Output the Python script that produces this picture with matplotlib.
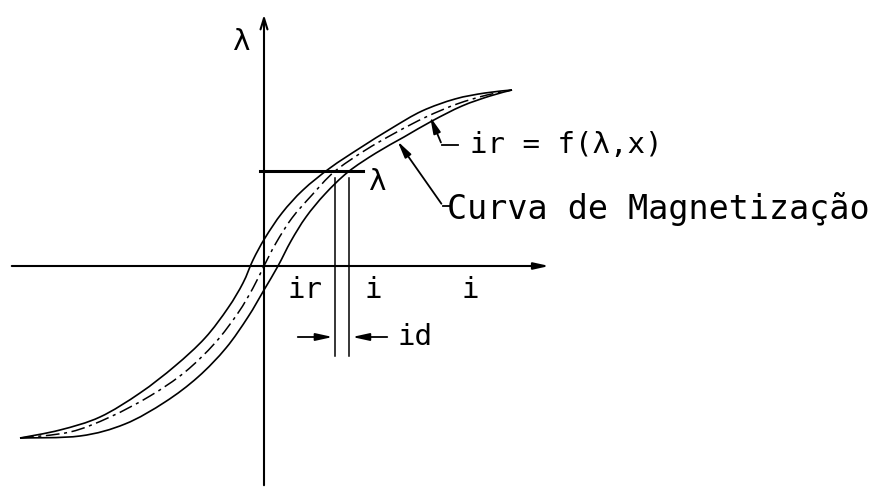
import numpy as np
import matplotlib.pyplot as plt
from matplotlib.path import Path
from matplotlib.patches import PathPatch

# hysteresis loop branches, (i, lambda) in drawing units, origin at axes crossing
up_i = [-244, -204, -164, -124, -89, -59, -36, -21, -11, 1, 18, 39, 66, 96, 128, 158, 191, 221, 248]
up_lam = [-172, -164, -151, -127, -100, -72, -42, -17, 6, 28, 53, 76, 98, 118, 138, 155, 167, 173, 176]

mid_i = [-244, -194, -154, -114, -79, -49, -26, -11, 0, 12, 28, 48, 70, 100, 131, 162, 193, 223, 248]
mid_lam = [-172, -166, -151, -130, -106, -77, -47, -22, 0, 23, 48, 71, 94, 115, 133, 149, 162, 171, 176]

low_i = [-244, -184, -139, -99, -66, -38, -16, 0, 14, 27, 42, 61, 84, 112, 140, 168, 198, 226, 248]
low_lam = [-172, -170, -158, -136, -111, -82, -51, -24, 0, 25, 49, 72, 94, 113, 129, 145, 160, 170, 176]

lam_level = 95  # flux linkage level marked on the axis


def smooth_path(xs, ys):
    # Catmull-Rom through the points, written as cubic Bezier segments
    p = np.column_stack([xs, ys]).astype(float)
    ext = np.vstack([p[0], p, p[-1]])
    verts = [p[0]]
    codes = [Path.MOVETO]
    for k in range(1, len(ext) - 2):
        p0, p1, p2, p3 = ext[k - 1], ext[k], ext[k + 1], ext[k + 2]
        verts += [p1 + (p2 - p0) / 6, p2 - (p3 - p1) / 6, p2]
        codes += [Path.CURVE4] * 3
    return Path(verts, codes)


plt.rcParams['font.family'] = ['DejaVu Sans Mono', 'DejaVu Sans']

fig = plt.figure(figsize=(8.92, 4.87), dpi=100)
ax = fig.add_axes([0, 0, 1, 1])
ax.set_xlim(-264, 628)
ax.set_ylim(-221, 266)
ax.axis('off')

# axes with arrowheads
ax.annotate('', xy=(0, 254), xytext=(0, -222),
            arrowprops=dict(arrowstyle='->,head_length=0.8,head_width=0.25', lw=1.5, color='black'))
ax.annotate('', xy=(288, 0), xytext=(-255, 0),
            arrowprops=dict(arrowstyle='-|>,head_length=0.9,head_width=0.2', lw=1.5, color='black'))

# loop and the magnetization curve
ax.add_patch(PathPatch(smooth_path(up_i, up_lam), fill=False, color='black', lw=1.2))
ax.add_patch(PathPatch(smooth_path(low_i, low_lam), fill=False, color='black', lw=1.2))
ax.add_patch(PathPatch(smooth_path(mid_i, mid_lam), fill=False, color='black', lw=1.1,
                       linestyle=(0, (9, 3, 2, 3))))

# level line and the two currents at that level
ir_val = np.interp(lam_level, mid_lam, mid_i)
i_val = np.interp(lam_level, low_lam, low_i)
ax.plot([-4, 99], [lam_level, lam_level], color='black', lw=2.2)
ax.plot([ir_val, ir_val], [88, -90], color='black', lw=1.1)
ax.plot([i_val, i_val], [88, -90], color='black', lw=1.1)

# id dimension arrows
head = '-|>,head_length=1.0,head_width=0.22'
ax.annotate('', xy=(ir_val, -71), xytext=(31, -71),
            arrowprops=dict(arrowstyle=head, lw=1.3, color='black'))
ax.annotate('', xy=(i_val, -71), xytext=(126, -71),
            arrowprops=dict(arrowstyle=head, lw=1.3, color='black'))

fs = 21
ax.text(-22, 224, 'λ', fontsize=fs, ha='center', va='center')
ax.text(114, 84, 'λ', fontsize=fs, ha='center', va='center')
ax.text(41, -24, 'ir', fontsize=fs, ha='center', va='center')
ax.text(109, -24, 'i', fontsize=fs, ha='center', va='center')
ax.text(206, -24, 'i', fontsize=fs, ha='center', va='center')
ax.text(134, -71, 'id', fontsize=fs, ha='left', va='center')

# leader for ir = f(lambda, x)
ax.annotate('', xy=(165, 152), xytext=(178, 121),
            arrowprops=dict(arrowstyle=head, lw=1.3, color='black'))
ax.plot([178, 194], [121, 121], color='black', lw=1.3)
ax.text(206, 121, 'ir = f(λ,x)', fontsize=fs, ha='left', va='center')

# leader for the magnetization curve
ax.annotate('', xy=(132, 127), xytext=(179, 60),
            arrowprops=dict(arrowstyle=head, lw=1.3, color='black'))
ax.plot([179, 186], [60, 60], color='black', lw=1.3)
ax.text(183, 57, 'Curva de Magnetização', fontsize=fs + 3, ha='left', va='center')

fig.savefig('out.png', dpi=100)
